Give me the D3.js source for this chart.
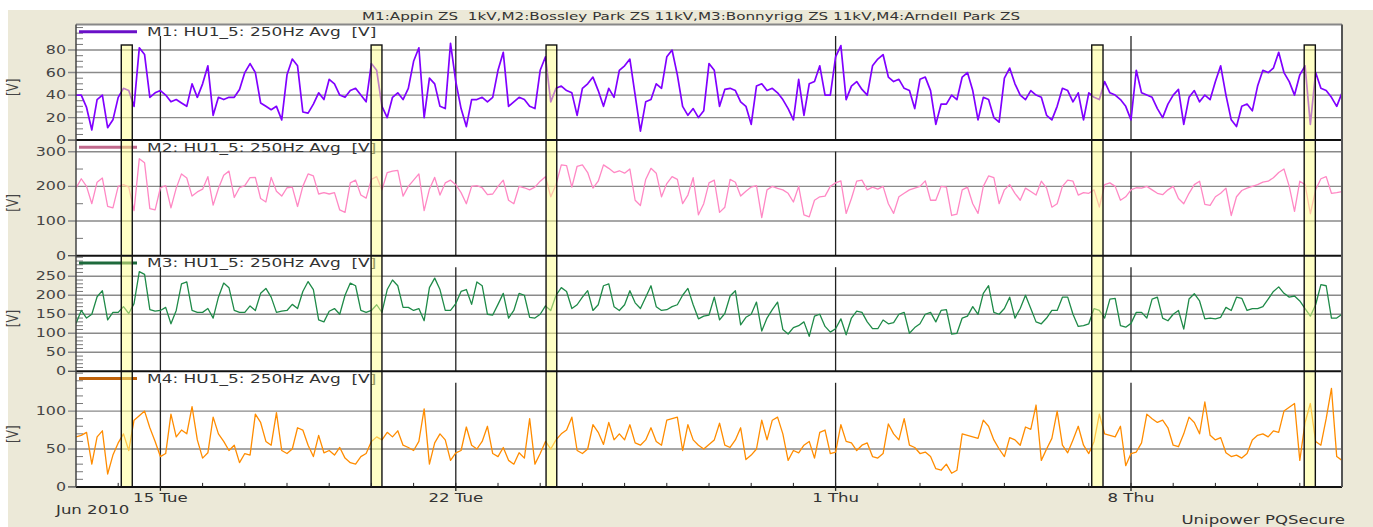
<!DOCTYPE html>
<html><head><meta charset="utf-8">
<script src="https://cdn.jsdelivr.net/npm/d3@7"></script>
<style>html,body{margin:0;padding:0;background:#fff;} svg{display:block;} text{white-space:pre;}</style>
</head><body>
<svg id="chart" width="1373" height="527"></svg>
<script>
// ---------------- DATA ----------------
const chartTitle = "M1:Appin ZS  1kV,M2:Bossley Park ZS 11kV,M3:Bonnyrigg ZS 11kV,M4:Arndell Park ZS";
const seriesNames = ["M1: HU1_5: 250Hz Avg  [V]", "M2: HU1_5: 250Hz Avg  [V]", "M3: HU1_5: 250Hz Avg  [V]", "M4: HU1_5: 250Hz Avg  [V]"];
const unitLabel = "[V]";
const startTime = "2010-06-13T00:00:00Z";
const endTime = "2010-07-13T00:00:00Z";
const stepHours = 3;

const M1 = [
40,40,29,9,36,40,11,18, 38,46,44,30,82,76,38,42, 44,40,34,36,33,30,50,38, 50,66,22,38,36,38,38,45,
60,68,60,33,30,27,30,18, 58,72,66,25,24,32,42,36, 54,50,40,38,44,46,40,34, 68,62,30,20,38,42,36,46,
70,82,20,55,50,30,28,86, 52,28,12,36,36,38,34,38, 62,78,30,34,38,36,30,28, 62,74,34,46,48,44,42,22,
46,50,56,44,30,46,38,62, 66,72,40,8,34,36,50,46, 74,80,58,30,22,28,20,26, 68,62,30,45,46,44,34,30,
14,48,50,44,46,42,36,28, 18,54,22,50,52,66,40,40, 74,84,36,48,52,45,40,66, 72,76,56,52,54,46,44,28,
54,56,44,14,32,32,40,36, 56,60,44,18,38,36,20,16, 55,64,50,40,36,44,40,38, 22,18,30,46,44,34,42,18,
42,38,36,52,42,40,36,30, 18,62,42,40,38,28,20,32, 40,45,14,38,44,34,40,36, 52,66,40,18,12,30,32,26,
48,62,60,64,78,60,52,40, 58,66,14,60,46,44,38,30, 42];

const M2 = [
195,222,200,150,212,224,142,138, 200,205,198,130,280,268,136,132, 196,202,138,195,236,224,172,184,
192,228,146,194,232,244,168,196, 202,225,226,165,155,226,186,172, 196,198,142,200,236,230,178,182,
178,182,132,125,210,218,175,166, 220,228,190,240,244,246,172,200, 218,236,130,192,226,175,210,218,
205,182,150,200,202,196,176,178, 200,218,160,150,200,196,190,198, 215,228,170,205,262,260,198,258,
262,240,195,215,262,252,240,245, 238,250,160,145,220,252,238,170, 208,228,220,150,175,225,118,150,
210,218,125,140,220,212,172,186, 198,202,110,190,200,194,190,180, 155,200,118,112,160,170,172,200,
210,216,122,165,215,218,190,198, 192,200,150,122,170,180,190,195, 200,216,160,160,200,198,116,120,
190,198,150,122,200,230,225,150, 190,205,180,160,195,185,175,215, 195,140,150,200,218,215,175,182,
180,190,140,205,210,200,160,170, 190,196,195,200,190,180,176,190, 200,165,150,180,205,215,148,145,
170,180,195,116,170,188,195,200, 205,212,215,225,240,250,200,128, 215,205,121,190,222,228,180,182, 185];

const M3 = [
126,160,140,150,196,212,135,155, 155,170,152,178,262,255,162,158, 160,168,125,160,230,235,160,155,
155,165,140,195,232,220,160,155, 155,172,160,205,218,195,155,158, 160,176,165,210,236,215,135,130,
158,165,150,200,232,225,160,155, 160,175,155,215,240,225,168,168, 160,165,133,220,245,215,160,160,
178,210,215,176,235,225,150,148, 176,205,140,160,205,200,142,140, 150,172,160,200,220,210,165,175,
195,212,160,175,225,230,170,160, 175,212,180,165,195,225,170,160, 162,170,175,200,218,175,138,145,
148,195,135,152,198,212,122,142, 150,182,106,140,162,182,110,98, 115,120,130,92,145,150,118,103,
112,138,96,140,158,155,130,112, 112,135,125,128,150,155,100,115, 125,150,155,130,160,162,98,100,
140,145,170,150,205,225,155,150, 165,195,140,165,200,165,130,125, 140,160,160,195,195,150,118,120,
125,165,160,140,190,192,120,116, 126,155,155,140,190,195,140,133, 150,160,111,190,204,185,138,140,
138,142,168,160,195,192,160,165, 165,170,190,210,222,205,195,198, 185,165,145,175,228,225,140,140, 150];

const M4 = [
66,68,72,30,66,74,17,42, 58,70,48,88,94,100,78,60, 40,44,96,66,75,70,106,62, 38,45,92,70,60,48,55,32,
44,42,96,85,60,55,98,48, 44,50,78,75,55,40,68,45, 48,42,52,38,32,30,40,44, 60,66,62,72,66,74,55,52,
48,60,103,30,58,70,62,35, 45,48,79,55,50,60,80,44, 40,52,35,30,45,38,90,30, 44,60,50,62,70,75,92,48,
44,50,82,72,56,85,62,70, 62,82,58,55,62,78,60,55, 88,90,92,48,82,62,55,50, 56,62,84,55,52,62,78,36,
42,50,88,62,88,92,70,35, 48,45,55,60,38,72,75,44, 46,82,60,58,48,55,58,40, 38,44,83,70,62,90,55,52,
44,46,40,24,22,30,18,22, 70,68,66,64,88,80,62,50, 40,65,62,55,79,76,108,35, 50,64,100,55,45,62,80,55,
44,60,96,70,68,66,80,28, 44,46,58,96,90,85,88,78, 55,53,70,92,85,70,112,68, 62,65,45,40,42,38,44,62,
68,70,66,74,72,100,105,110, 35,85,110,60,55,90,130,40, 35];

const seriesData = [M1, M2, M3, M4];
const seriesColors = ["#8000ff", "#ff88c4", "#1f8a48", "#ff8c00"];
const legendColors = ["#6a10c8", "#c0688c", "#1e6a3c", "#c0620a"];

const yTicks1 = [0, 20, 40, 60, 80];
const yTicks2 = [0, 100, 200, 300];
const yTicks3 = [0, 50, 100, 150, 200, 250];
const yTicks4 = [0, 50, 100];
const yMinorStep = [5, 50, 10, 10];
const yMaxValues = [102.7, 333.5, 304, 152.5];

const majorDates = ["2010-06-15T00:00:00Z", "2010-06-22T00:00:00Z", "2010-07-01T00:00:00Z", "2010-07-08T00:00:00Z"];
const monthLabel = "Jun 2010";
const footerText = "Unipower PQSecure";

const highlightStarts = ["2010-06-14T01:45:00Z", "2010-06-19T23:50:00Z", "2010-06-24T03:20:00Z", "2010-07-07T01:40:00Z", "2010-07-12T02:30:00Z"];
const highlightEnds   = ["2010-06-14T08:00:00Z", "2010-06-20T06:00:00Z", "2010-06-24T09:25:00Z", "2010-07-07T08:05:00Z", "2010-07-12T08:50:00Z"];

// ---------------- LAYOUT ----------------
const W = 1373, H = 527;
const plotL = 76, plotR = 1342, plotT = 24.5;
const panelH = 115.6;
const SX = 1.38;                // horizontal text stretch of the original screenshot
const FONT = "'DejaVu Sans', Verdana, sans-serif";

const svg = d3.select("#chart");
svg.append("rect").attr("width", W).attr("height", H).attr("fill", "#ffffff");
svg.append("rect").attr("x", 8).attr("y", 10).attr("width", W - 8).attr("height", H - 10).attr("fill", "#ece9d8");
svg.append("rect").attr("x", plotL).attr("y", plotT).attr("width", plotR - plotL).attr("height", panelH * 4).attr("fill", "#ffffff");

const x = d3.scaleUtc().domain([new Date(startTime), new Date(endTime)]).range([plotL, plotR]);
const t0 = new Date(startTime);

function stext(g, px, py, s, anchor, size, color) {
  return g.append("text")
    .attr("transform", `translate(${px},${py}) scale(${SX},1)`)
    .attr("text-anchor", anchor || "start")
    .attr("font-family", FONT)
    .attr("font-size", size || 12)
    .attr("fill", color || "#333")
    .text(s);
}

const tickSets = [yTicks1, yTicks2, yTicks3, yTicks4];
const defs = svg.append("defs");

for (let k = 0; k < 4; k++) {
  const top = plotT + k * panelH, bottom = top + panelH;
  const y = d3.scaleLinear().domain([0, yMaxValues[k]]).range([bottom, top]);
  const g = svg.append("g");

  defs.append("clipPath").attr("id", "clip" + k)
    .append("rect").attr("x", plotL).attr("y", top).attr("width", plotR - plotL).attr("height", panelH);

  g.selectAll(".grid").data(tickSets[k].filter(v => v > 0)).join("line")
    .attr("x1", plotL - 8).attr("x2", plotR)
    .attr("y1", d => y(d)).attr("y2", d => y(d))
    .attr("stroke", "#8a8a8a").attr("stroke-width", 1.4);
  g.append("line").attr("x1", plotL - 8).attr("x2", plotL).attr("y1", bottom).attr("y2", bottom)
    .attr("stroke", "#555").attr("stroke-width", 1.4);

  const minors = d3.range(yMinorStep[k], yMaxValues[k], yMinorStep[k]).filter(v => !tickSets[k].includes(v));
  g.selectAll(".minor").data(minors).join("line")
    .attr("x1", plotL).attr("x2", plotL + 7)
    .attr("y1", d => y(d)).attr("y2", d => y(d))
    .attr("stroke", "#777").attr("stroke-width", 1);

  tickSets[k].forEach(v => stext(g, 66, y(v) + 4, String(v), "end", 11.5, "#444"));

  const yc = (top + bottom) / 2 + 5;
  g.append("text")
    .attr("transform", `translate(18,${yc}) rotate(-90) scale(1,${SX})`)
    .attr("text-anchor", "middle").attr("font-family", FONT).attr("font-size", 12).attr("fill", "#444")
    .text(unitLabel);

  g.selectAll(".wk").data(majorDates).join("line")
    .attr("x1", d => x(new Date(d))).attr("x2", d => x(new Date(d)))
    .attr("y1", top + 11.5).attr("y2", bottom)
    .attr("stroke", "#222").attr("stroke-width", 1.3);

  const line = d3.line()
    .x((d, i) => x(d3.utcHour.offset(t0, i * stepHours)))
    .y(d => y(d));
  g.append("path").datum(seriesData[k])
    .attr("clip-path", `url(#clip${k})`)
    .attr("d", line).attr("fill", "none")
    .attr("stroke", seriesColors[k]).attr("stroke-width", k === 0 ? 1.7 : 1.3)
    .attr("stroke-linejoin", "round");

  g.append("line").attr("x1", plotL + 3).attr("x2", plotL + 61).attr("y1", top + 7.2).attr("y2", top + 7.2)
    .attr("stroke", legendColors[k]).attr("stroke-width", 3);
  stext(g, 147, top + 11.5, seriesNames[k], "start", 12.3, "#333");
}

const hb = plotT + 20.5, he = plotT + panelH * 4;
svg.append("g").selectAll("rect").data(highlightStarts).join("rect")
  .attr("x", d => x(new Date(d)))
  .attr("width", (d, i) => x(new Date(highlightEnds[i])) - x(new Date(d)))
  .attr("y", hb).attr("height", he - hb)
  .attr("fill", "rgba(255,255,140,0.5)")
  .attr("stroke", "#111").attr("stroke-width", 1.4);

const borders = svg.append("g");
for (let k = 1; k <= 4; k++) {
  const yy = plotT + k * panelH;
  borders.append("line").attr("x1", plotL).attr("x2", plotR).attr("y1", yy).attr("y2", yy)
    .attr("stroke", "#111").attr("stroke-width", 2);
}
borders.append("line").attr("x1", plotL).attr("x2", plotR).attr("y1", plotT).attr("y2", plotT)
  .attr("stroke", "#888").attr("stroke-width", 2);
borders.append("line").attr("x1", plotL).attr("x2", plotL).attr("y1", plotT).attr("y2", he)
  .attr("stroke", "#444").attr("stroke-width", 1.5);
borders.append("line").attr("x1", plotR).attr("x2", plotR).attr("y1", plotT).attr("y2", he)
  .attr("stroke", "#555").attr("stroke-width", 2);

const days = d3.utcDay.range(new Date(startTime), new Date(endTime)).slice(1);
svg.append("g").selectAll("line").data(days).join("line")
  .attr("x1", d => x(d)).attr("x2", d => x(d))
  .attr("y1", he - 4).attr("y2", he)
  .attr("stroke", "#222").attr("stroke-width", 1);
svg.append("g").selectAll("line").data(majorDates).join("line")
  .attr("x1", d => x(new Date(d))).attr("x2", d => x(new Date(d)))
  .attr("y1", he).attr("y2", he + 4)
  .attr("stroke", "#222").attr("stroke-width", 1.3);

const fmt = d3.utcFormat("%-d %a");
const axisG = svg.append("g");
majorDates.forEach(d => stext(axisG, x(new Date(d)), 501.5, fmt(new Date(d)), "middle", 12, "#333"));
stext(axisG, 56, 513.5, monthLabel, "start", 12, "#333");
stext(axisG, 1345, 524, footerText, "end", 12, "#333");

stext(svg, 691, 19.5, chartTitle, "middle", 11, "#333");
</script>
</body></html>
